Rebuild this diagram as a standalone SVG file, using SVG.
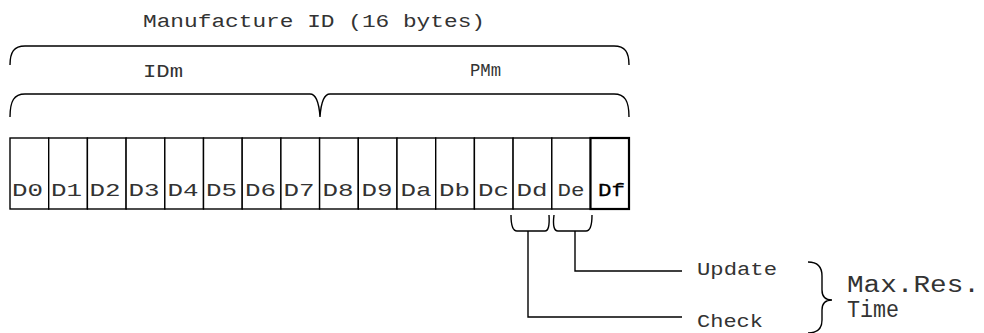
<svg xmlns="http://www.w3.org/2000/svg" width="984" height="333" viewBox="0 0 984 333">
<style>
.ln{fill:none;stroke:#000;stroke-width:1.4}
.cell{fill:#fff;stroke:#000;stroke-width:1.4}
.t{font-family:"Liberation Mono","Courier New",monospace;fill:#333;font-size:18px}
.c{font-family:"Liberation Mono","Courier New",monospace;fill:#333;font-size:19px;text-anchor:middle}
</style>
<rect width="984" height="333" fill="#fff"/>
<g id="title"><text class="t" x="143" y="27" textLength="342" lengthAdjust="spacingAndGlyphs">Manufacture ID (16 bytes)</text></g>
<g id="brace-all"><path class="ln" d="M10,65 C10,52 14,46 25,46 L614,46 C625,46 629,52 629,65"/></g>
<g id="label-idm"><text class="t" x="143" y="77" textLength="40" lengthAdjust="spacingAndGlyphs">IDm</text></g>
<g id="label-pmm"><text class="t" x="470" y="76" textLength="31" lengthAdjust="spacingAndGlyphs">PMm</text></g>
<g id="brace-idm-pmm"><path class="ln" d="M10,117 C10,101 14,94 25,94 L310,94 C316,94 319,102 320,117 C321,102 324,94 330,94 L614,94 C625,94 629,101 629,117"/></g>
<g id="cells">
<rect class="cell" x="10" y="138" width="38.7" height="71"/>
<rect class="cell" x="48.7" y="138" width="38.7" height="71"/>
<rect class="cell" x="87.4" y="138" width="38.7" height="71"/>
<rect class="cell" x="126.1" y="138" width="38.7" height="71"/>
<rect class="cell" x="164.8" y="138" width="38.7" height="71"/>
<rect class="cell" x="203.5" y="138" width="38.7" height="71"/>
<rect class="cell" x="242.2" y="138" width="38.7" height="71"/>
<rect class="cell" x="280.9" y="138" width="38.7" height="71"/>
<rect class="cell" x="319.6" y="138" width="38.7" height="71"/>
<rect class="cell" x="358.3" y="138" width="38.7" height="71"/>
<rect class="cell" x="397" y="138" width="38.7" height="71"/>
<rect class="cell" x="435.7" y="138" width="38.7" height="71"/>
<rect class="cell" x="474.4" y="138" width="38.7" height="71"/>
<rect class="cell" x="513.1" y="138" width="38.7" height="71"/>
<rect class="cell" x="551.8" y="138" width="38.7" height="71"/>
<rect class="cell" x="590.5" y="138" width="38.5" height="71" style="stroke-width:2.2"/>
<text class="c" x="27.5" y="196" textLength="31" lengthAdjust="spacingAndGlyphs">D0</text>
<text class="c" x="66.5" y="196" textLength="31" lengthAdjust="spacingAndGlyphs">D1</text>
<text class="c" x="105" y="196" textLength="31" lengthAdjust="spacingAndGlyphs">D2</text>
<text class="c" x="144" y="196" textLength="31" lengthAdjust="spacingAndGlyphs">D3</text>
<text class="c" x="183" y="196" textLength="31" lengthAdjust="spacingAndGlyphs">D4</text>
<text class="c" x="221.5" y="196" textLength="31" lengthAdjust="spacingAndGlyphs">D5</text>
<text class="c" x="260.5" y="196" textLength="31" lengthAdjust="spacingAndGlyphs">D6</text>
<text class="c" x="299" y="196" textLength="31" lengthAdjust="spacingAndGlyphs">D7</text>
<text class="c" x="338" y="196" textLength="31" lengthAdjust="spacingAndGlyphs">D8</text>
<text class="c" x="377" y="196" textLength="31" lengthAdjust="spacingAndGlyphs">D9</text>
<text class="c" x="416" y="196" textLength="31" lengthAdjust="spacingAndGlyphs">Da</text>
<text class="c" x="454.5" y="196" textLength="31" lengthAdjust="spacingAndGlyphs">Db</text>
<text class="c" x="493.5" y="196" textLength="31" lengthAdjust="spacingAndGlyphs">Dc</text>
<text class="c" x="532" y="196" textLength="31" lengthAdjust="spacingAndGlyphs">Dd</text>
<text class="c" x="571" y="196" textLength="27" lengthAdjust="spacingAndGlyphs">De</text>
<text class="c" x="611.5" y="196" textLength="27" lengthAdjust="spacingAndGlyphs" style="fill:#000;stroke:#000;stroke-width:0.3">Df</text>
</g>
<g id="connectors">
<path class="ln" d="M511,215 Q511,231 517,231 L545,231 Q550,231 549,215"/>
<path class="ln" d="M554,215 Q552,231 558,231 L586,231 Q592,231 592,215"/>
<path class="ln" d="M528,231 L528,317 L682,317"/>
<path class="ln" d="M575,231 L575,271 L682,271"/>
<path class="ln" d="M808,262 Q822,262 822,276 L822,290 Q822,300 832,300 Q822,300 822,310 L822,320 Q822,333 808,333"/>
</g>
<g id="label-update"><text class="t" x="697" y="275" textLength="80" lengthAdjust="spacingAndGlyphs">Update</text></g>
<g id="label-check"><text class="t" x="697" y="327" textLength="66" lengthAdjust="spacingAndGlyphs">Check</text></g>
<g id="label-maxres"><text class="t" x="847" y="292" style="font-size:23px" textLength="133" lengthAdjust="spacingAndGlyphs">Max.Res.</text>
<text class="t" x="847" y="317" style="font-size:23px" textLength="52" lengthAdjust="spacingAndGlyphs">Time</text></g>
</svg>
